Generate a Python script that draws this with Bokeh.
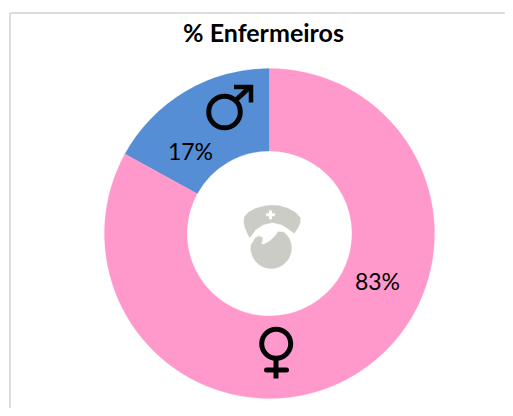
from math import pi, sin, cos, radians
from bokeh.plotting import figure
from bokeh.models import Range1d
from bokeh.core.properties import value
from bokeh.embed import file_html
from bokeh.resources import INLINE

title = "% Enfermeiros"
categories = ["Masculino", "Feminino"]
shares = [17, 83]
labels = ["17%", "83%"]
colors = ["#558ED5", "#FF99CC"]

W, H = 505, 408
def Y(py): return 416 - py

p = figure(width=W, height=H, output_backend="svg", toolbar_location=None,
           x_range=Range1d(0, W), y_range=Range1d(416 - H, 416),
           min_border=0, outline_line_color=None, background_fill_color="white")
p.axis.visible = False
p.grid.visible = False

# chart frame
p.line([9.5, 9.5], [Y(416), Y(12.5)], line_color="#D0D0D0", line_width=1.5)
p.line([9.5, 513], [Y(12.5), Y(12.5)], line_color="#D0D0D0", line_width=1.5)

# doughnut
cx, cy, r_out, r_in = 269, Y(233), 165, 82.5
start = pi / 2
total = sum(shares)
for s, c in zip(shares, colors):
    end = start + 2 * pi * s / total
    p.annular_wedge([cx], [cy], r_in, r_out, start, end, fill_color=c, line_color=c, line_width=0.3)
    start = end

# labels
p.text([190], [Y(150.5)], text=[labels[0]], text_font=value("Lato"), text_font_size="23px",
       text_align="center", text_baseline="middle", text_color="#000000")
p.text([377], [Y(280)], text=[labels[1]], text_font=value("Lato"), text_font_size="23px",
       text_align="center", text_baseline="middle", text_color="#000000")
p.text([263], [Y(31.5)], text=[title], text_font=value("Lato"), text_font_style="bold",
       text_font_size="25px", text_align="center", text_baseline="middle", text_color="#000000")

# male symbol
ink = "#050505"
p.circle([224], [Y(111.5)], radius=15.8, fill_color=None, line_color=ink, line_width=5)
p.line([236, 249], [Y(99), Y(87)], line_color=ink, line_width=5)
p.line([233.5, 250.5, 250.5], [Y(86.5), Y(86.5), Y(102)], line_color=ink, line_width=4.5,
       line_join="miter")

# female symbol
p.circle([275.7], [Y(343.3)], radius=14.5, fill_color=None, line_color=ink, line_width=5)
p.line([275.5, 275.5], [Y(358), Y(378)], line_color=ink, line_width=5)
p.line([266, 286], [Y(369.5), Y(369.5)], line_color=ink, line_width=5, line_cap="round")

# nurse icon (outline)
def zx(v): return [235 + a / 3 for a in v]
def zy(v): return [Y(198 + a / 3) for a in v]
grey = "#CCCCC6"
cap_x = [25, 27, 38, 60, 85, 108, 132, 158, 180, 194, 194, 186, 176, 160, 138, 110, 84, 60, 43, 36, 29]
cap_y = [70, 55, 42, 30, 23, 20, 22, 30, 42, 58, 72, 90, 104, 92, 78, 72, 78, 94, 118, 105, 88]
p.patch(zx(cap_x), zy(cap_y), fill_color=grey, line_color=grey, line_width=0.5)

arc = [radians(a) for a in range(-52, 196, 12)]
face_x = [107 + 61 * cos(a) for a in arc] + [60, 72, 81, 80, 76, 84, 100, 116, 128]
face_y = [149 + 61 * sin(a) for a in arc] + [118, 113, 118, 127, 135, 138, 130, 116, 100]
p.patch(zx(face_x), zy(face_y), fill_color=grey, line_color=grey, line_width=0.5)
p.line(zx([105, 105]), zy([36, 62]), line_color="white", line_width=3)
p.line(zx([92, 118]), zy([49, 49]), line_color="white", line_width=3)

open("out.html", "w").write(file_html(p, INLINE))
